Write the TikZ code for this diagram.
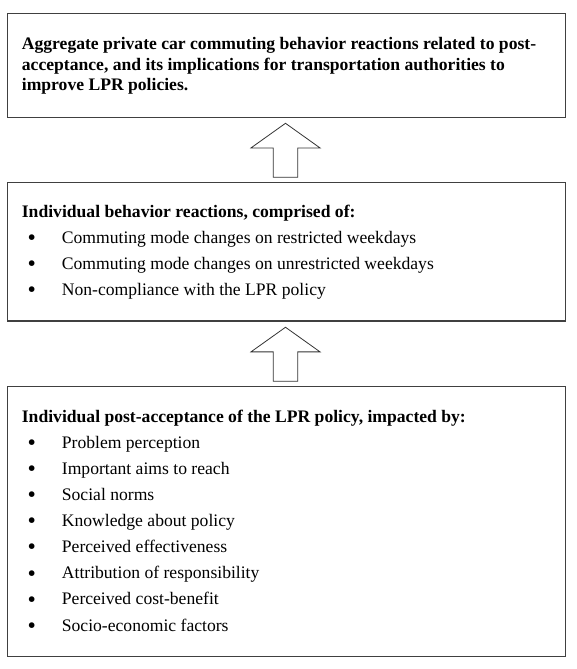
\documentclass[tikz,border=0pt]{standalone}
\usepackage{fontspec}
\setmainfont{Liberation Serif}
\usetikzlibrary{positioning, calc}

\newcommand{\bigbullet}{\raisebox{-2.2pt}{\scalebox{1.35}{\textbullet}}}

\begin{document}
\begin{tikzpicture}[x=1pt, y=-1pt,
    box/.style={draw=black!75, line width=1.1pt, minimum width=558.4pt, inner sep=0pt},
    headline/.style={anchor=base west, inner sep=0pt, font=\bfseries\fontsize{17.6}{20.3}\selectfont},
    itemline/.style={anchor=base west, inner sep=0pt, font=\fontsize{17.6}{20.3}\selectfont},
    uparrow/.style={draw=black!80, line width=0.8pt, line join=miter}]
    \useasboundingbox (0,0) rectangle (576,669);

    % Boxes
    \node[box, minimum height=103.7pt] (agg) at (286.5,65.2) {};
    \node[box, minimum height=138.7pt] (ind) at (286.5,251.65) {};
    \node[box, minimum height=270pt] (acc) at (286.5,521.7) {};

    % Hollow arrows between the boxes
    \foreach \b in {agg,ind}
        \draw[uparrow] ($(\b.south)+(-1,5.7)$) -- ++(34.5,24.6) -- ++(-22.3,0) -- ++(0,29.4)
            -- ++(-24.4,0) -- ++(0,-29.4) -- ++(-22.3,0) -- cycle;

    % Aggregate reactions
    \node[headline] (agg1) at (21.7,50) {Aggregate private car commuting behavior reactions related to post-};
    \node[headline] (agg2) at (21.7,70.3) {acceptance, and its implications for transportation authorities to};
    \node[headline] (agg3) at (21.7,90.6) {improve LPR policies.};

    % Individual reactions
    \node[headline] (indh) at (21.7,217.7) {Individual behavior reactions, comprised of:};
    \foreach \txt [count=\i] in {Commuting mode changes on restricted weekdays,
        Commuting mode changes on unrestricted weekdays, Non-compliance with the LPR policy}
        \node[itemline] (ind\i) at (61.7,{243.3+26.1*(\i-1)}) {\llap{\bigbullet\hspace{26pt}}\txt};

    % Post-acceptance
    \node[headline] (acch) at (21.7,422.7) {Individual post-acceptance of the LPR policy, impacted by:};
    \foreach \txt [count=\i] in {Problem perception, Important aims to reach, Social norms,
        Knowledge about policy, Perceived effectiveness, Attribution of responsibility,
        Perceived cost-benefit, Socio-economic factors}
        \node[itemline] (acc\i) at (61.7,{448.3+26.1*(\i-1)}) {\llap{\bigbullet\hspace{26pt}}\txt};
\end{tikzpicture}
\end{document}
